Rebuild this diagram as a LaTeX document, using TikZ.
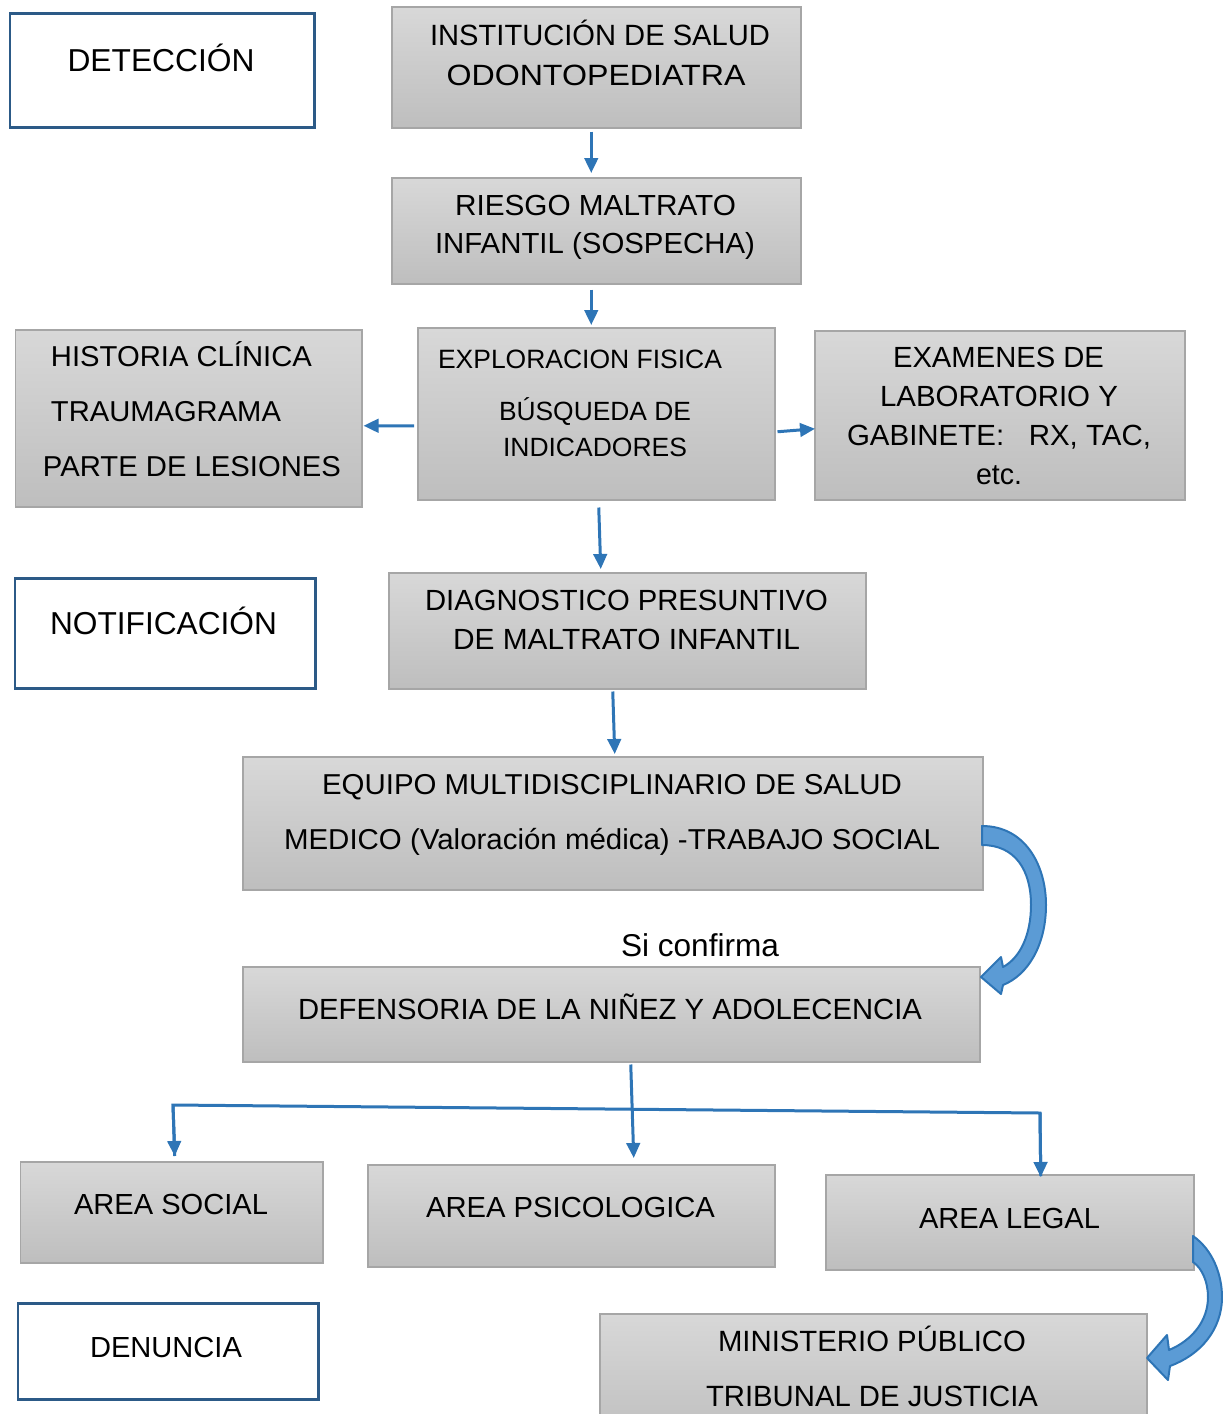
\documentclass[tikz,border=0pt]{standalone}
\usepackage{fontspec}
\setmainfont{Liberation Sans}
\usepackage{graphicx}
\usetikzlibrary{arrows.meta,calc}
\definecolor{cblue}{HTML}{2E75B6}
\definecolor{cfill}{HTML}{5B9BD5}
\definecolor{cdark}{HTML}{4A84BF}
\definecolor{gborder}{HTML}{A6A6A6}
\definecolor{gtop}{HTML}{D8D8D8}
\definecolor{gbot}{HTML}{BEBEBE}
\definecolor{wborder}{HTML}{2C5A87}
\newsavebox\fitbox
\newcommand\fx[3]{%
  \pgfmathsetmacro\fsz{#1*0.7948}%
  \fontsize{\fsz pt}{\fsz pt}\selectfont
  \sbox\fitbox{#3}%
  \pgfmathsetmacro\sfac{(#2*0.5690551)/(\the\wd\fitbox)}%
  \scalebox{\sfac}[1]{\usebox\fitbox}}
\newcommand\boxnode[6]{\node[#2,anchor=north west,inner sep=0pt,
  minimum width={(#5-#3)*0.02cm},minimum height={(#6-#4)*0.02cm}] (#1) at (#3,#4) {};}
\tikzset{
  graybox/.style={draw=gborder,line width=0.03cm,top color=gtop,bottom color=gbot},
  whitebox/.style={draw=wborder,line width=0.05cm,fill=white},
  txt/.style={inner sep=0pt,outer sep=0pt,anchor=base,text=black},
  txtw/.style={inner sep=0pt,outer sep=0pt,anchor=base west,text=black},
  cline/.style={draw=cblue,line width=0.06cm},
  carrow/.style={cline,-{Triangle[length=0.3cm,width=0.27cm]}},
  blockarrow/.style={fill=cfill,draw=cblue,line width=0.04cm,line join=round}
}
\begin{document}
\begin{tikzpicture}[x=0.02cm,y=-0.02cm]
\useasboundingbox (0,0) rectangle (1223,1414);
\clip (0,0) rectangle (1223,1414);
% boxes
\boxnode{detec}{whitebox}{9}{12}{313}{126}
\boxnode{inst}{graybox}{391}{6}{800}{127}
\boxnode{riesgo}{graybox}{391}{177}{800}{283}
\boxnode{hist}{graybox}{15}{329}{361}{506}
\boxnode{expl}{graybox}{417}{327}{774}{499}
\boxnode{exam}{graybox}{814}{330}{1184}{499}
\boxnode{notif}{whitebox}{14}{577}{314}{687}
\boxnode{diag}{graybox}{388}{572}{865}{688}
\boxnode{equipo}{graybox}{242}{756}{982}{889}
\boxnode{defens}{graybox}{242}{966}{979}{1061}
\boxnode{social}{graybox}{20}{1161}{322}{1262}
\boxnode{psico}{graybox}{367}{1164}{774}{1266}
\boxnode{legal}{graybox}{825}{1174}{1193}{1269}
\boxnode{denun}{whitebox}{17}{1302}{317}{1398}
\boxnode{minist}{graybox}{599}{1313}{1146}{1440}
% texts
\node[txt] (tdetec) at (161,71) {\fx{22.7}{187}{DETECCIÓN}};
\node[txt] (tinst1) at (600,45.5) {\fx{21}{340}{INSTITUCIÓN DE SALUD}};
\node[txt] (tinst2) at (596,85.5) {\fx{21}{299}{ODONTOPEDIATRA}};
\node[txt] (tries1) at (595.5,215.5) {\fx{20.8}{281}{RIESGO MALTRATO}};
\node[txt] (tries2) at (595,253.5) {\fx{20.8}{320}{INFANTIL (SOSPECHA)}};
\node[txtw] (thist1) at (51,366.5) {\fx{20.6}{261}{HISTORIA CLÍNICA}};
\node[txtw] (thist2) at (51,421.5) {\fx{20.6}{230}{TRAUMAGRAMA}};
\node[txtw] (thist3) at (43,476.5) {\fx{20.6}{298}{PARTE DE LESIONES}};
\node[txt] (texpl1) at (580,368.5) {\fx{19}{284}{EXPLORACION FISICA}};
\node[txt] (texpl2) at (595,420) {\fx{18.9}{192}{BÚSQUEDA DE}};
\node[txt] (texpl3) at (595,456) {\fx{18.9}{184}{INDICADORES}};
\node[txt] (texam1) at (998.5,367.5) {\fx{20.9}{211}{EXAMENES DE}};
\node[txt] (texam2) at (999,406.5) {\fx{20.9}{238}{LABORATORIO Y}};
\node[txt] (texam3) at (999,445.5) {\fx{20.9}{304}{GABINETE:\ \ \ RX, TAC,}};
\node[txt] (texam4) at (999,484.5) {\fx{20.9}{46}{etc.}};
\node[txt] (tnotif) at (163.5,634.5) {\fx{22.7}{227}{NOTIFICACIÓN}};
\node[txt] (tdiag1) at (626.5,610.5) {\fx{20.9}{403}{DIAGNOSTICO PRESUNTIVO}};
\node[txt] (tdiag2) at (626.5,649.5) {\fx{20.9}{347}{DE MALTRATO INFANTIL}};
\node[txt] (tequi1) at (612,794.5) {\fx{20.6}{580}{EQUIPO MULTIDISCIPLINARIO DE SALUD}};
\node[txt] (tequi2) at (612,849.5) {\fx{20.6}{656}{MEDICO (Valoración médica) -TRABAJO SOCIAL}};
\node[txt] (tsi) at (700,956) {\fx{22.6}{158}{Si confirma}};
\node[txt] (tdef) at (610,1019.5) {\fx{20.9}{624}{DEFENSORIA DE LA NIÑEZ Y ADOLECENCIA}};
\node[txt] (tsoc) at (171,1214.5) {\fx{20.8}{194}{AREA SOCIAL}};
\node[txt] (tpsi) at (570.5,1217.5) {\fx{20.8}{289}{AREA PSICOLOGICA}};
\node[txt] (tleg) at (1009.5,1228.5) {\fx{20.8}{181}{AREA LEGAL}};
\node[txt] (tden) at (166,1357.5) {\fx{20.8}{152}{DENUNCIA}};
\node[txt] (tmin1) at (872,1351.5) {\fx{21}{308}{MINISTERIO PÚBLICO}};
\node[txt] (tmin2) at (872,1406.5) {\fx{21}{332}{TRIBUNAL DE JUSTICIA}};
% connectors
\draw[carrow] ($(inst.south)+(-5,3)$) -- ($(riesgo.north)+(-5,-4)$);
\draw[carrow] ($(riesgo.south)+(-5,5)$) -- ($(expl.north)+(-5,-2)$);
\draw[carrow] ($(expl.west)+(-3,12)$) -- ($(hist.east)+(1,7.5)$);
\draw[carrow] ($(expl.east)+(2,18)$) -- ($(exam.west)+(1,13.5)$);
\draw[carrow] ($(expl.south)+(2.5,7)$) -- ($(diag.north)+(-26.5,-3)$);
\draw[carrow] ($(diag.south)+(-14.5,2)$) -- ($(equipo.north)+(2,-2)$);
\draw[carrow] ($(defens.south)+(19.5,2)$) -- ($(psico.north)+(62.5,-6)$);
\coordinate (bl) at (173,1105);
\coordinate (br) at (1040,1113);
\draw[cline,line join=miter] ($(social.north)+(3,-5)$) -- (bl) -- (br) -- ($(legal.north)+(31,2)$);
\draw[carrow] (bl) -- ($(social.north)+(3,-5)$);
\draw[carrow] (br) -- ($(legal.north)+(31,3)$);
% curved block arrows
\path[blockarrow] (982,826) .. controls (1025,826) and (1046,865) .. (1046,905)
  .. controls (1046,945) and (1028,975) .. (1003,985) -- (1001,994) -- (981,977)
  -- (1001,957) -- (1003,967) .. controls (1020,958) and (1031,935) .. (1031,905)
  .. controls (1031,870) and (1015,845) .. (982,845) -- cycle;
\path[blockarrow] (1193,1236) .. controls (1213,1250) and (1222,1275) .. (1222,1297)
  .. controls (1222,1330) and (1200,1355) .. (1170,1366) -- (1168,1380) -- (1147,1358)
  -- (1167,1335) -- (1169,1350) .. controls (1193,1340) and (1208,1320) .. (1208,1297)
  .. controls (1208,1282) and (1202,1268) .. (1193,1262) -- cycle;
\end{tikzpicture}
\end{document}
